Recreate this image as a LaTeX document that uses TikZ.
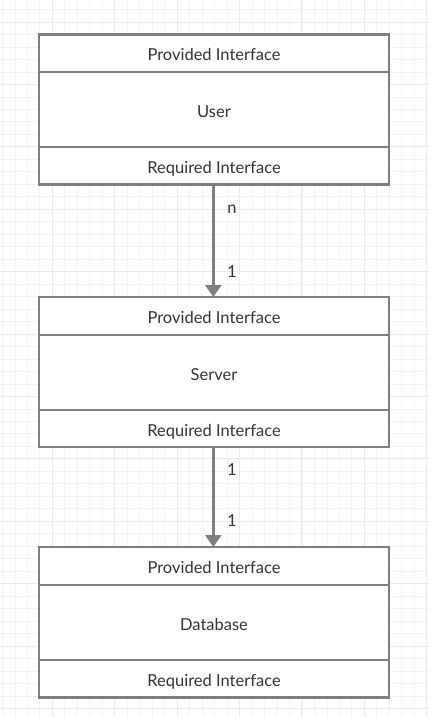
\documentclass[tikz,border=0pt]{standalone}
\usepackage{fontspec}
\setmainfont{Lato}
\usetikzlibrary{arrows.meta}
\definecolor{linegrey}{HTML}{7F7F7F}
\definecolor{textgrey}{HTML}{333333}
\definecolor{gridminor}{HTML}{F3F3F3}
\definecolor{gridmajor}{HTML}{EAEAEA}
\tikzset{
  px/.style={x=1pt,y=-1pt},
  section/.style={draw=linegrey, line width=2.6pt, fill=white, minimum width=350pt, anchor=north, inner sep=0pt, outer sep=0pt, text height=15pt, text depth=0pt, text=textgrey, font=\fontsize{16.5}{18}\selectfont},
  conn/.style={draw=linegrey, line width=2.6pt, -{Triangle[width=16pt,length=12pt]}},
  mult/.style={text=textgrey, font=\fontsize{16.5}{18}\selectfont, inner sep=0pt}
}
\begin{document}
\begin{tikzpicture}[px]
\useasboundingbox (0,0) rectangle (429,717);
\fill[white] (0,0) rectangle (429,717);
% grid
\foreach \i in {0,...,35} {
  \draw[gridminor, line width=0.7pt] ({2.4+\i*12.48},0) -- ({2.4+\i*12.48},717);
}
\foreach \j in {0,...,58} {
  \draw[gridminor, line width=0.7pt] (0,{-2.96+\j*12.48}) -- (429,{-2.96+\j*12.48});
}
\foreach \i in {0,...,6} {
  \draw[gridmajor, line width=0.9pt] ({52.3+\i*62.4},0) -- ({52.3+\i*62.4},717);
}
\foreach \j in {0,...,11} {
  \draw[gridmajor, line width=0.9pt] (0,{22+\j*62.4}) -- (429,{22+\j*62.4});
}
% User
\node[section, minimum height=37.5pt] (up) at (214,34.5) {Provided Interface};
\node[section, minimum height=75pt] (um) at (214,72) {User};
\node[section, minimum height=37.5pt] (ur) at (214,147) {Required Interface};
% Server
\node[section, minimum height=38pt] (sp) at (214,297) {Provided Interface};
\node[section, minimum height=75pt] (sm) at (214,335) {Server};
\node[section, minimum height=37pt] (sr) at (214,410) {Required Interface};
% Database
\node[section, minimum height=38pt] (dp) at (214,547) {Provided Interface};
\node[section, minimum height=75pt] (dm) at (214,585) {Database};
\node[section, minimum height=37.5pt] (dr) at (214,660) {Required Interface};
% connectors
\draw[conn] (ur.south -| 213.3,0) -- (sp.north -| 213.3,0);
\draw[conn] (sr.south -| 213.3,0) -- (dp.north -| 213.3,0);
\node[mult] (m1) at (232,209) {n};
\node[mult] (m2) at (232,272) {1};
\node[mult] (m3) at (232,470) {1};
\node[mult] (m4) at (232,521) {1};
\end{tikzpicture}
\end{document}
